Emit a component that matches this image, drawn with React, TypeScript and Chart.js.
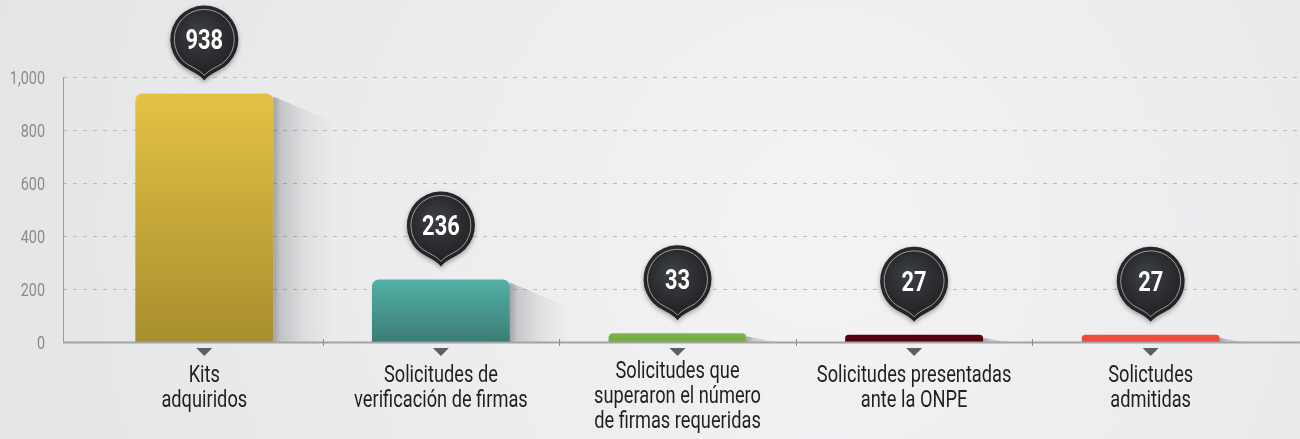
import React, { useEffect, useRef } from "react";
import { Chart, registerables } from "chart.js";

Chart.register(...registerables);

const categories: string[][] = [
  ["Kits", "adquiridos"],
  ["Solicitudes de", "verificación de firmas"],
  ["Solicitudes que", "superaron el número", "de firmas requeridas"],
  ["Solicitudes presentadas", "ante la ONPE"],
  ["Solictudes", "admitidas"],
];
const values: number[] = [938, 236, 33, 27, 27];
const yTicks: number[] = [0, 200, 400, 600, 800, 1000];
const barTopColors: string[] = ["#e3c244", "#52b1a6", "#7bb749", "#57000f", "#f04d41"];
const barBottomColors: string[] = ["#a88e2e", "#3c7c75", "#72ab43", "#520010", "#ea4a3f"];

const FONT = "Roboto, 'Noto Sans', sans-serif";

function pinPath(ctx: CanvasRenderingContext2D, cx: number, cy: number, r: number, tipY: number) {
  const a = 0.42;
  const ang1 = Math.PI / 2 + a;
  const ang2 = Math.PI / 2 - a;
  ctx.beginPath();
  ctx.arc(cx, cy, r, ang2, ang1, true);
  const ly = cy + r * Math.sin(ang1);
  ctx.quadraticCurveTo(cx - 3, ly + (tipY - ly) * 0.55, cx, tipY);
  ctx.quadraticCurveTo(cx + 3, ly + (tipY - ly) * 0.55, cx + r * Math.cos(ang2), cy + r * Math.sin(ang2));
  ctx.closePath();
}

function condensedText(
  ctx: CanvasRenderingContext2D,
  text: string,
  x: number,
  y: number,
  sx: number,
  align: CanvasTextAlign
) {
  ctx.save();
  ctx.translate(x, y);
  ctx.scale(sx, 1);
  ctx.textAlign = align;
  ctx.textBaseline = "alphabetic";
  ctx.fillText(text, 0, 0);
  ctx.restore();
}

const decorPlugin = {
  id: "decor",
  beforeDraw(chart: any) {
    const ctx: CanvasRenderingContext2D = chart.ctx;
    const { width, height } = chart;
    ctx.save();
    const bg = ctx.createRadialGradient(820, 230, 20, 820, 230, 900);
    bg.addColorStop(0, "#f3f3f4");
    bg.addColorStop(1, "#e3e4e6");
    ctx.fillStyle = bg;
    ctx.fillRect(0, 0, width, height);
    ctx.restore();
  },
  beforeDatasetsDraw(chart: any) {
    const ctx: CanvasRenderingContext2D = chart.ctx;
    const yScale = chart.scales.y;
    const area = chart.chartArea;
    const axisX = 63;
    const rightX = chart.width;
    ctx.save();
    // dashed grid lines
    ctx.strokeStyle = "#b9babc";
    ctx.lineWidth = 1;
    ctx.setLineDash([4, 6]);
    yTicks.forEach((v) => {
      if (v === 0) return;
      const y = Math.round(yScale.getPixelForValue(v)) + 0.5;
      ctx.beginPath();
      ctx.moveTo(axisX, y);
      ctx.lineTo(rightX, y);
      ctx.stroke();
    });
    ctx.setLineDash([]);
    // y tick labels
    ctx.fillStyle = "#8a8b8d";
    ctx.font = "18px " + FONT;
    yTicks.forEach((v) => {
      const y = yScale.getPixelForValue(v);
      condensedText(ctx, v.toLocaleString("en-US"), 45, y + 6.5, 0.8, "right");
    });
    // y axis line
    ctx.strokeStyle = "#9d9ea0";
    ctx.beginPath();
    ctx.moveTo(axisX + 0.5, Math.round(yScale.getPixelForValue(1000)));
    ctx.lineTo(axisX + 0.5, area.bottom);
    ctx.stroke();
    // bar shadows
    const meta = chart.getDatasetMeta(0);
    meta.data.forEach((bar: any) => {
      const right = bar.x + bar.width / 2;
      const top = bar.y;
      const base = bar.base;
      const L = 60;
      const slope = 0.47;
      const g = ctx.createLinearGradient(right, 0, right + L, 0);
      g.addColorStop(0, "rgba(40,42,50,0.38)");
      g.addColorStop(0.12, "rgba(40,42,50,0.2)");
      g.addColorStop(0.5, "rgba(40,42,50,0.07)");
      g.addColorStop(1, "rgba(40,42,50,0)");
      ctx.fillStyle = g;
      ctx.beginPath();
      ctx.moveTo(right, top + 3);
      const dropEnd = top + L * slope;
      if (dropEnd < base) {
        ctx.lineTo(right + L, dropEnd);
        ctx.lineTo(right + L, base);
      } else {
        ctx.lineTo(right + (base - top) / 0.3, base);
      }
      ctx.lineTo(right, base);
      ctx.closePath();
      ctx.fill();
    });
    ctx.restore();
  },
  afterDatasetsDraw(chart: any) {
    const ctx: CanvasRenderingContext2D = chart.ctx;
    const xScale = chart.scales.x;
    const area = chart.chartArea;
    const axisX = 63;
    ctx.save();
    // x axis line
    ctx.strokeStyle = "#a3a4a6";
    ctx.lineWidth = 2;
    ctx.beginPath();
    ctx.moveTo(axisX, area.bottom + 0.5);
    ctx.lineTo(chart.width, area.bottom + 0.5);
    ctx.stroke();
    ctx.lineWidth = 1;
    ctx.strokeStyle = "#8f9092";
    for (let i = 0; i < categories.length - 1; i++) {
      const x = Math.round((xScale.getPixelForValue(i) + xScale.getPixelForValue(i + 1)) / 2) + 0.5;
      ctx.beginPath();
      ctx.moveTo(x, area.bottom - 3);
      ctx.lineTo(x, area.bottom + 4);
      ctx.stroke();
    }
    // triangles under axis and category labels
    categories.forEach((lines, i) => {
      const x = xScale.getPixelForValue(i);
      ctx.fillStyle = "#5b5e62";
      ctx.beginPath();
      ctx.moveTo(x - 8, area.bottom + 6);
      ctx.lineTo(x + 8, area.bottom + 6);
      ctx.lineTo(x, area.bottom + 14);
      ctx.closePath();
      ctx.fill();
      ctx.fillStyle = "#231f20";
      ctx.font = "24px " + FONT;
      const firstBase = area.bottom + 40 - (lines.length > 2 ? 4 : 0);
      lines.forEach((t, k) => {
        condensedText(ctx, t, x, firstBase + k * 25, 0.76, "center");
      });
    });
    // pins
    const meta = chart.getDatasetMeta(0);
    meta.data.forEach((bar: any, i: number) => {
      const cx = bar.x;
      const tipY = bar.y - 13;
      const r = 34;
      const cy = tipY - 41;
      ctx.save();
      ctx.shadowColor = "rgba(0,0,0,0.35)";
      ctx.shadowBlur = 5;
      ctx.shadowOffsetY = 2;
      const g = ctx.createRadialGradient(cx - 6, cy - 8, 2, cx, cy, r + 6);
      g.addColorStop(0, "#3d4043");
      g.addColorStop(1, "#1d1e20");
      ctx.fillStyle = g;
      pinPath(ctx, cx, cy, r, tipY);
      ctx.fill();
      ctx.restore();
      ctx.strokeStyle = "rgba(190,192,194,0.75)";
      ctx.lineWidth = 1;
      pinPath(ctx, cx, cy, r - 4, tipY - 5);
      ctx.stroke();
      ctx.fillStyle = "#ffffff";
      ctx.font = "bold 28px " + FONT;
      condensedText(ctx, String(values[i]), cx, cy + 10, 0.78, "center");
    });
    ctx.restore();
  },
};

export default function App() {
  const ref = useRef<HTMLCanvasElement | null>(null);
  useEffect(() => {
    document.body.style.margin = "0";
    const canvas = ref.current;
    if (!canvas) return;
    const chart = new Chart(canvas, {
      type: "bar",
      data: {
        labels: categories,
        datasets: [
          {
            data: values,
            backgroundColor: (c: any) => {
              const i = c.dataIndex;
              const chartObj = c.chart;
              const area = chartObj.chartArea;
              if (!area || i === undefined) return barTopColors[i ?? 0];
              const yTop = chartObj.scales.y.getPixelForValue(values[i]);
              const g = chartObj.ctx.createLinearGradient(0, yTop, 0, area.bottom);
              g.addColorStop(0, barTopColors[i]);
              g.addColorStop(1, barBottomColors[i]);
              return g;
            },
            borderWidth: 0,
            borderRadius: 7,
            barPercentage: 0.583,
            categoryPercentage: 1,
          },
        ],
      },
      options: {
        responsive: false,
        animation: false,
        devicePixelRatio: 1,
        layout: { padding: { top: 77, right: 31, left: 0, bottom: 0 } },
        plugins: { legend: { display: false }, tooltip: { enabled: false } },
        scales: {
          x: {
            grid: { display: false, drawTicks: false },
            border: { display: false },
            ticks: { display: false },
            afterFit: (scale: any) => {
              scale.height = 97;
            },
          },
          y: {
            min: 0,
            max: 1000,
            grid: { display: false, drawTicks: false },
            border: { display: false },
            ticks: { display: false, stepSize: 200 },
            afterFit: (scale: any) => {
              scale.width = 86;
            },
          },
        },
      },
      plugins: [decorPlugin],
    });
    return () => chart.destroy();
  }, []);
  return (
    <div style={{ width: 1300, height: 439, position: "relative" }}>
      <canvas ref={ref} width={1300} height={439} style={{ display: "block" }} />
    </div>
  );
}
